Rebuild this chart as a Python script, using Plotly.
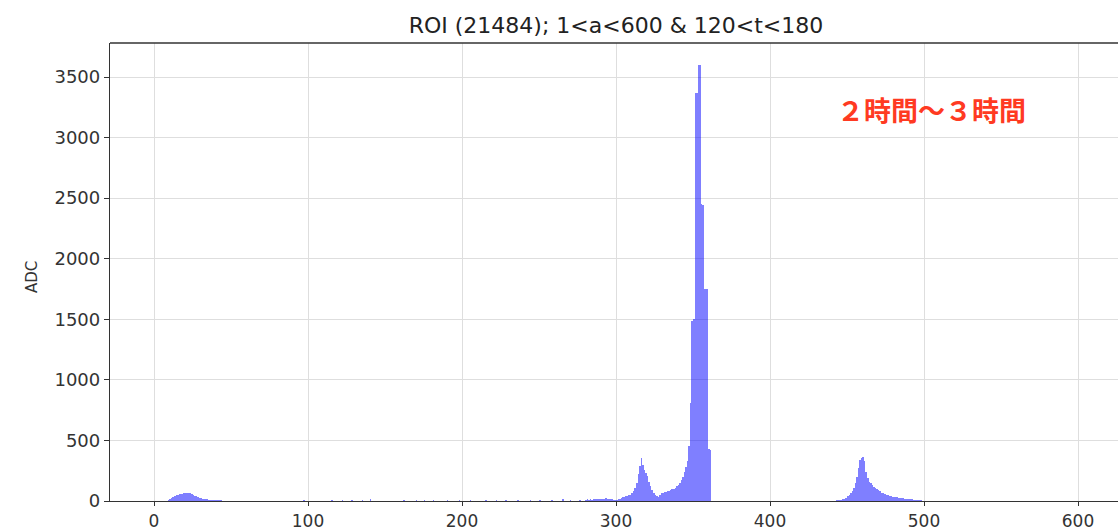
import numpy as np
import plotly.graph_objects as go

# ---- data ----
title_text = "ROI (21484); 1<a<600 & 120<t<180"
y_label = "ADC"
note_text = "２時間～３時間"
x_ticks = [0, 100, 200, 300, 400, 500, 600]
y_ticks = [0, 500, 1000, 1500, 2000, 2500, 3000, 3500]

# low-channel bump, channels 8..45
low_start = 8
low_counts = [3, 8, 15, 25, 35, 42, 48, 52, 55, 58, 60, 62, 65, 68, 70, 66, 60, 52,
              45, 38, 32, 28, 24, 20, 18, 16, 14, 12, 11, 10, 9, 8, 8, 7, 6, 5, 3, 2]

# scattered small counts in the flat middle region
sparse_channels = [97, 115, 122, 128, 135, 140, 162, 170, 175, 181, 190, 198, 205,
                   215, 222, 228, 236, 244, 250, 258, 265, 270, 276]
sparse_counts = [8, 10, 6, 12, 10, 14, 12, 8, 10, 9, 11, 8, 10,
                 12, 9, 11, 10, 12, 9, 11, 13, 10, 12]

# rising region + two peaks, channels 280..361
main_start = 280
main_counts = [12, 14, 10, 16, 12, 18, 14, 15, 20, 16, 18, 14, 20, 22, 16, 18, 20, 15, 12, 10,
               10, 14, 18, 24, 30, 34, 38, 42, 46, 52, 62, 80, 105, 150, 220, 290, 355, 300,
               260, 230, 210, 160, 120, 90, 65, 50, 38, 35, 50, 62, 68, 72, 76, 80, 84, 88,
               95, 100, 110, 120, 135, 150, 175, 200, 240, 280, 330, 450, 810, 1490, 1500,
               3370, 3370, 3600, 3600, 2450, 2440, 1750, 1750, 1750, 430, 420]

# peak around channel 460, channels 440..500
high_start = 440
high_counts = [2, 3, 4, 5, 6, 8, 10, 14, 20, 28, 38, 50, 65, 85, 110, 150, 200, 270, 340,
               355, 360, 330, 240, 190, 160, 145, 130, 118, 108, 98, 90, 80, 70, 62, 56, 50,
               46, 42, 38, 36, 34, 32, 30, 28, 26, 24, 22, 20, 19, 18, 16, 14, 13, 12, 10,
               9, 8, 7, 6, 4, 3]

# ---- assemble per-channel table ----
channels = np.arange(1, 600)
counts = np.zeros(len(channels))
def put(start, vals):
    for i, v in enumerate(vals):
        counts[start + i - 1] = v
put(low_start, low_counts)
for c, v in zip(sparse_channels, sparse_counts):
    counts[c - 1] = v
put(main_start, main_counts)
put(high_start, high_counts)

W, H = 1118, 531
L, R, T, B = 110, 0, 43, 30

fig = go.Figure()
fig.add_trace(go.Bar(
    x=channels, y=counts, width=1, offset=0,
    marker=dict(color="rgba(0,0,255,0.5)", line=dict(width=0)),
    hoverinfo="x+y",
))

y_font = dict(family="DejaVu Sans", size=18, color="#333333")
x_font = dict(family="DejaVu Sans", size=17, color="#333333")
fig.update_layout(
    width=W, height=H,
    margin=dict(l=L, r=R, t=T, b=B, autoexpand=False),
    paper_bgcolor="white", plot_bgcolor="white",
    showlegend=False,
    bargap=0,
    title=dict(text=title_text, x=(616) / W, xanchor="center",
               y=1 - 25 / H, yanchor="middle", yref="container", xref="container",
               font=dict(family="DejaVu Sans", size=22, color="#222222")),
    xaxis=dict(range=[-28.57, 625.97], tickvals=x_ticks, ticks="outside", ticklen=4,
               tickcolor="#333333", showline=True, linecolor="#333333", linewidth=1.3,
               showgrid=True, gridcolor="#dedede", gridwidth=1, zeroline=False,
               tickfont=x_font, automargin=False),
    yaxis=dict(range=[0, 3781], tickvals=y_ticks, ticks="outside", ticklen=5,
               tickcolor="#333333", showline=True, linecolor="#333333", linewidth=1.3,
               showgrid=True, gridcolor="#dedede", gridwidth=1, zeroline=False,
               tickfont=y_font, automargin=False),
)

# top border of the axes box
fig.add_shape(type="line", xref="paper", yref="paper", x0=0, x1=1, y0=1, y1=1,
              line=dict(color="#333333", width=1.3))

pw = W - L - R
ph = H - T - B
fig.add_annotation(text=y_label, xref="paper", yref="paper",
                   x=(32 - L) / pw, y=(H - B - 277) / ph, textangle=-90,
                   showarrow=False, xanchor="center", yanchor="middle",
                   font=dict(family="DejaVu Sans", size=15, color="#333333"))
fig.add_annotation(text="<b>" + note_text + "</b>", xref="paper", yref="paper",
                   x=(931 - L) / pw, y=(H - B - 110) / ph,
                   showarrow=False, xanchor="center", yanchor="middle",
                   font=dict(family="Noto Sans CJK JP", size=27, color="#ff3a22"))

fig.write_html("out.html")
